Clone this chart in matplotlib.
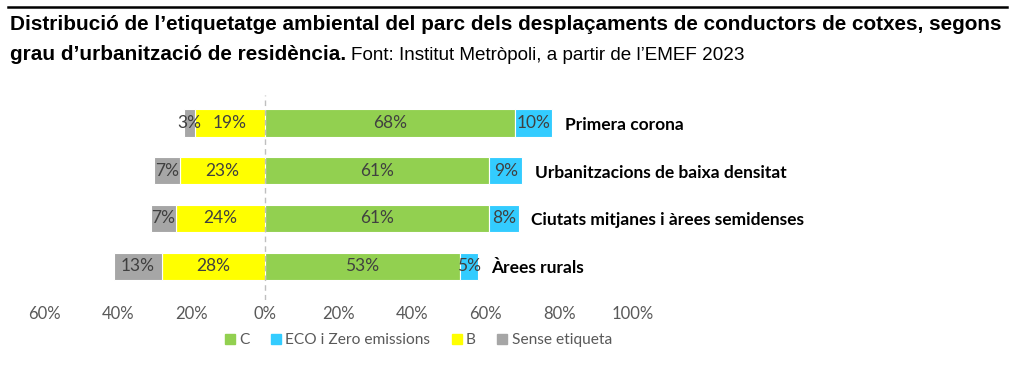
import numpy as np
import matplotlib
matplotlib.use("Agg")
from matplotlib import pyplot as plt
from matplotlib.lines import Line2D

# Dades (percentatges)
categories = ["Primera corona", "Urbanitzacions de baixa densitat",
              "Ciutats mitjanes i àrees semidenses", "Àrees rurals"]
c_vals = [68, 61, 61, 53]
eco_vals = [10, 9, 8, 5]
b_vals = [19, 23, 24, 28]
sense_vals = [3, 7, 7, 13]
tick_vals = [-60, -40, -20, 0, 20, 40, 60, 80, 100]
tick_labels = ["60%", "40%", "20%", "0%", "20%", "40%", "60%", "80%", "100%"]

col_c = "#92D050"
col_eco = "#33CCFF"
col_b = "#FFFF00"
col_sense = "#A6A6A6"
txt_col = "#404040"

W, H = 1027, 383
fig = plt.figure(figsize=(W / 100, H / 100), dpi=100)

# eixos posats a mà en píxels
x0_px, x1_px = 38.5, 640.0
y_top, y_bot = 95, 300
ax = fig.add_axes([x0_px / W, 1 - y_bot / H, (x1_px - x0_px) / W, (y_bot - y_top) / H])
ax.set_xlim(-61.5, 102)
ax.set_ylim(3.71, -0.587)

y = np.arange(len(categories))
c = np.array(c_vals)
eco = np.array(eco_vals)
b = np.array(b_vals)
s = np.array(sense_vals)
h = 0.57
kw = dict(height=h, edgecolor="white", linewidth=0.8)

ax.barh(y, c, left=0, color=col_c, **kw)
ax.barh(y, eco, left=c, color=col_eco, **kw)
ax.barh(y, -b, left=0, color=col_b, **kw)
ax.barh(y, -s, left=-b, color=col_sense, **kw)

lab_font = dict(family="Lato", fontsize=12.5, color=txt_col, ha="center", va="center")
for i in range(len(categories)):
    ax.text(c[i] / 2, y[i], f"{c[i]}%", **lab_font)
    ax.text(c[i] + eco[i] / 2, y[i], f"{eco[i]}%", **lab_font)
    ax.text(-b[i] / 2, y[i], f"{b[i]}%", **lab_font)
    ax.text(-b[i] - s[i] / 2, y[i], f"{s[i]}%", **lab_font)
    ax.text(c[i] + eco[i] + 3.5, y[i] + 0.04, categories[i], family="Lato",
            fontweight="bold", fontsize=12.5, color="black", ha="left", va="center",
            clip_on=False)

ax.axvline(0, color="#BFBFBF", linestyle=(0, (4, 3)), linewidth=1.0, zorder=3)

for sp in ax.spines.values():
    sp.set_visible(False)
ax.set_yticks([])
ax.set_xticks(tick_vals)
ax.set_xticklabels(tick_labels, family="Lato", fontsize=12, color="#595959")
ax.tick_params(axis="x", length=0, pad=4)

# llegenda
handles = [Line2D([], [], marker="s", linestyle="none", markersize=7, color=col)
           for col in [col_c, col_eco, col_b, col_sense]]
fig.legend(handles, ["C", "ECO i Zero emissions", "B", "Sense etiqueta"],
           loc="center", bbox_to_anchor=(417 / W, 1 - 340 / H), ncol=4, frameon=False,
           prop=dict(family="Lato", size=11.2), labelcolor="#595959",
           handletextpad=0.1, columnspacing=1.2, handlelength=1.0)

# títol
fig.add_artist(Line2D([8 / W, 1007 / W], [1 - 7 / H, 1 - 7 / H], color="black", linewidth=1.8))
tfam = "Liberation Sans"
t1 = fig.text(10 / W, 1 - 25 / H,
              "Distribució de l’etiquetatge ambiental del parc dels desplaçaments de conductors de cotxes, segons",
              family=tfam, fontweight="bold", fontsize=14, va="center", ha="left")
fig.canvas.draw()
# ajusta la mida perquè la primera línia ocupi l'amplada de la referència
scale = (1005 - 10) / t1.get_window_extent().width
tsize = 14 * scale
t1.set_fontsize(tsize)
t2 = fig.text(10 / W, 1 - 55 / H, "grau d’urbanització de residència.",
              family=tfam, fontweight="bold", fontsize=tsize, va="center", ha="left")
fig.canvas.draw()
bb = t2.get_window_extent()
fig.text((bb.x1 + 5) / W, 1 - 55 / H, "Font: Institut Metròpoli, a partir de l’EMEF 2023",
         family=tfam, fontsize=tsize * 0.91, va="center", ha="left")

fig.savefig("out.png", dpi=100)
